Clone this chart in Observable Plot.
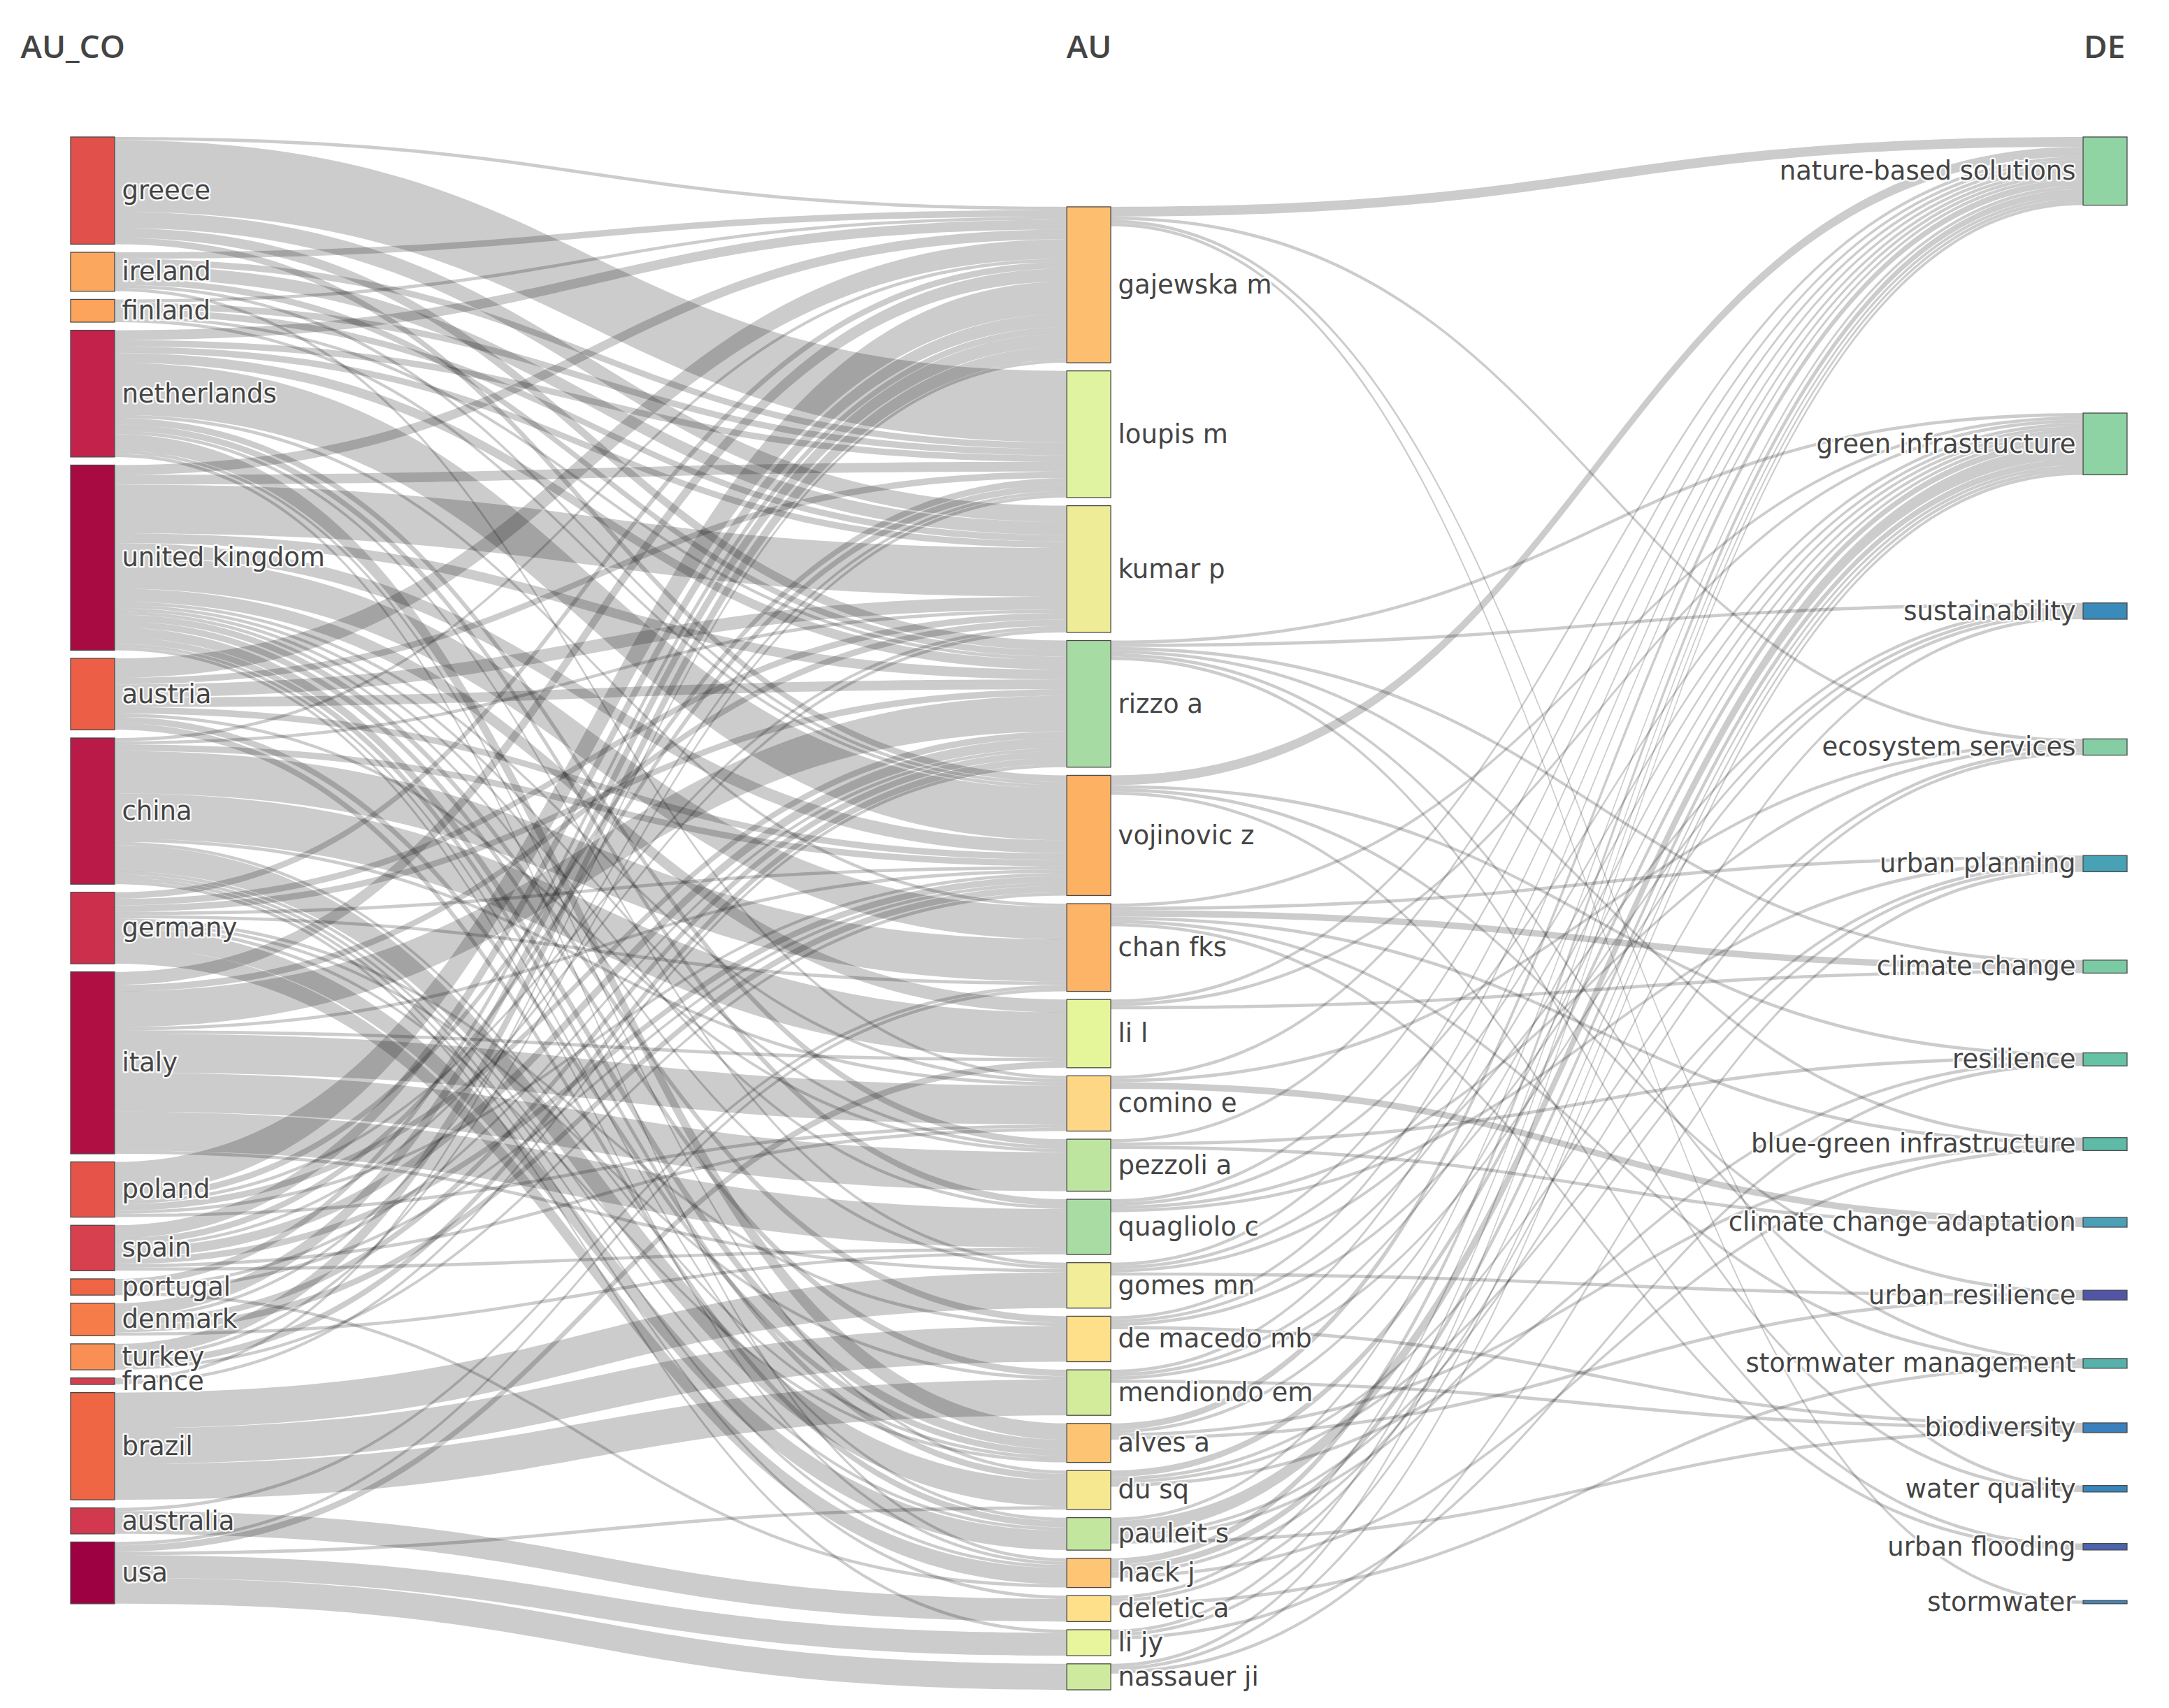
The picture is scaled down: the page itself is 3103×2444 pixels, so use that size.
<!DOCTYPE html>
<html>
<head>
<meta charset="utf-8">
<script src="https://cdn.jsdelivr.net/npm/d3@7"></script>
<script src="https://cdn.jsdelivr.net/npm/@observablehq/plot@0.6"></script>
<style>
  html, body { margin: 0; padding: 0; background: #fff; overflow: hidden; }
</style>
</head>
<body>
<div id="chart"></div>
<script>
// ---------------- data ----------------
const columnTitles = ["AU_CO", "AU", "DE"];

const countries = ["greece", "ireland", "finland", "netherlands", "united kingdom", "austria",
  "china", "germany", "italy", "poland", "spain", "portugal", "denmark", "turkey", "france",
  "brazil", "australia", "usa"];

const authors = ["gajewska m", "loupis m", "kumar p", "rizzo a", "vojinovic z", "chan fks", "li l",
  "comino e", "pezzoli a", "quagliolo c", "gomes mn", "de macedo mb", "mendiondo em", "alves a",
  "du sq", "pauleit s", "hack j", "deletic a", "li jy", "nassauer ji"];

const keywords = ["nature-based solutions", "green infrastructure", "sustainability",
  "ecosystem services", "urban planning", "climate change", "resilience",
  "blue-green infrastructure", "climate change adaptation", "urban resilience",
  "stormwater management", "biodiversity", "water quality", "urban flooding", "stormwater"];

// country -> author (source, target, value)
const countryAuthorLinks = [
  ["greece", "gajewska m", 1], ["greece", "loupis m", 22], ["greece", "kumar p", 5], ["greece", "rizzo a", 3], ["greece", "vojinovic z", 2],
  ["ireland", "gajewska m", 2], ["ireland", "loupis m", 2], ["ireland", "kumar p", 4], ["ireland", "rizzo a", 2], ["ireland", "vojinovic z", 1], ["ireland", "comino e", 1],
  ["finland", "gajewska m", 1], ["finland", "loupis m", 2], ["finland", "kumar p", 2], ["finland", "rizzo a", 1], ["finland", "vojinovic z", 1],
  ["netherlands", "gajewska m", 3], ["netherlands", "loupis m", 2], ["netherlands", "kumar p", 2], ["netherlands", "rizzo a", 3], ["netherlands", "vojinovic z", 16],
  ["netherlands", "chan fks", 1], ["netherlands", "pezzoli a", 2], ["netherlands", "quagliolo c", 2], ["netherlands", "gomes mn", 1], ["netherlands", "alves a", 5],
  ["netherlands", "du sq", 1], ["netherlands", "hack j", 1],
  ["united kingdom", "gajewska m", 3], ["united kingdom", "loupis m", 3], ["united kingdom", "kumar p", 15], ["united kingdom", "rizzo a", 3],
  ["united kingdom", "vojinovic z", 4], ["united kingdom", "chan fks", 10], ["united kingdom", "li l", 4], ["united kingdom", "comino e", 1],
  ["united kingdom", "pezzoli a", 1], ["united kingdom", "quagliolo c", 1], ["united kingdom", "gomes mn", 1], ["united kingdom", "de macedo mb", 2],
  ["united kingdom", "mendiondo em", 2], ["united kingdom", "alves a", 3], ["united kingdom", "du sq", 2], ["united kingdom", "pauleit s", 1], ["united kingdom", "hack j", 1],
  ["austria", "gajewska m", 6], ["austria", "loupis m", 2], ["austria", "kumar p", 4], ["austria", "rizzo a", 3], ["austria", "vojinovic z", 2],
  ["austria", "pezzoli a", 1], ["austria", "alves a", 2], ["austria", "pauleit s", 2],
  ["china", "gajewska m", 1], ["china", "kumar p", 1], ["china", "vojinovic z", 2], ["china", "chan fks", 13], ["china", "li l", 14], ["china", "comino e", 1],
  ["china", "alves a", 1], ["china", "du sq", 8], ["china", "pauleit s", 1], ["china", "hack j", 1], ["china", "deletic a", 1], ["china", "li jy", 1],
  ["germany", "gajewska m", 2], ["germany", "kumar p", 2], ["germany", "rizzo a", 2], ["germany", "vojinovic z", 1], ["germany", "chan fks", 1],
  ["germany", "de macedo mb", 1], ["germany", "mendiondo em", 1], ["germany", "alves a", 1], ["germany", "pauleit s", 6], ["germany", "hack j", 5],
  ["italy", "gajewska m", 4], ["italy", "kumar p", 2], ["italy", "rizzo a", 11], ["italy", "vojinovic z", 1], ["italy", "li l", 1],
  ["italy", "comino e", 12], ["italy", "pezzoli a", 12], ["italy", "quagliolo c", 12], ["italy", "gomes mn", 1],
  ["poland", "gajewska m", 10], ["poland", "loupis m", 2], ["poland", "kumar p", 1], ["poland", "rizzo a", 2], ["poland", "vojinovic z", 1], ["poland", "comino e", 1],
  ["spain", "gajewska m", 4], ["spain", "loupis m", 2], ["spain", "kumar p", 1], ["spain", "rizzo a", 3], ["spain", "vojinovic z", 2], ["spain", "comino e", 1], ["spain", "quagliolo c", 1],
  ["portugal", "gajewska m", 2], ["portugal", "rizzo a", 1], ["portugal", "vojinovic z", 1], ["portugal", "hack j", 1],
  ["denmark", "gajewska m", 4], ["denmark", "loupis m", 1], ["denmark", "rizzo a", 2], ["denmark", "vojinovic z", 2], ["denmark", "quagliolo c", 1],
  ["turkey", "gajewska m", 4], ["turkey", "loupis m", 1], ["turkey", "rizzo a", 2], ["turkey", "vojinovic z", 1],
  ["france", "gajewska m", 1], ["france", "rizzo a", 1],
  ["brazil", "gomes mn", 11], ["brazil", "de macedo mb", 11], ["brazil", "mendiondo em", 11],
  ["australia", "chan fks", 1], ["australia", "deletic a", 7],
  ["usa", "chan fks", 1], ["usa", "li l", 2], ["usa", "du sq", 1], ["usa", "li jy", 7], ["usa", "nassauer ji", 8]
];

// author -> keyword (source, target, value)
const authorKeywordLinks = [
  ["gajewska m", "nature-based solutions", 3], ["gajewska m", "ecosystem services", 1], ["gajewska m", "water quality", 1], ["gajewska m", "stormwater", 1],
  ["rizzo a", "green infrastructure", 1], ["rizzo a", "sustainability", 1], ["rizzo a", "climate change", 1], ["rizzo a", "blue-green infrastructure", 1],
  ["rizzo a", "stormwater management", 1], ["rizzo a", "water quality", 1],
  ["vojinovic z", "nature-based solutions", 3], ["vojinovic z", "resilience", 1], ["vojinovic z", "urban resilience", 1], ["vojinovic z", "urban flooding", 1],
  ["chan fks", "green infrastructure", 1], ["chan fks", "urban planning", 1], ["chan fks", "climate change", 2], ["chan fks", "blue-green infrastructure", 1],
  ["chan fks", "stormwater management", 1], ["chan fks", "urban flooding", 1],
  ["li l", "nature-based solutions", 1], ["li l", "green infrastructure", 1], ["li l", "climate change", 1],
  ["comino e", "nature-based solutions", 1], ["comino e", "ecosystem services", 1], ["comino e", "climate change adaptation", 2],
  ["pezzoli a", "nature-based solutions", 1], ["pezzoli a", "resilience", 1], ["pezzoli a", "climate change adaptation", 1],
  ["quagliolo c", "nature-based solutions", 1], ["quagliolo c", "green infrastructure", 1], ["quagliolo c", "ecosystem services", 1], ["quagliolo c", "urban planning", 1],
  ["gomes mn", "nature-based solutions", 1], ["gomes mn", "green infrastructure", 1], ["gomes mn", "sustainability", 1], ["gomes mn", "urban resilience", 1],
  ["de macedo mb", "nature-based solutions", 1], ["de macedo mb", "green infrastructure", 1], ["de macedo mb", "sustainability", 1], ["de macedo mb", "biodiversity", 1],
  ["mendiondo em", "nature-based solutions", 1], ["mendiondo em", "green infrastructure", 1], ["mendiondo em", "sustainability", 1], ["mendiondo em", "biodiversity", 1],
  ["alves a", "nature-based solutions", 2], ["alves a", "green infrastructure", 1], ["alves a", "blue-green infrastructure", 1], ["alves a", "urban resilience", 1],
  ["du sq", "green infrastructure", 2], ["du sq", "ecosystem services", 1], ["du sq", "urban planning", 1], ["du sq", "resilience", 1],
  ["pauleit s", "nature-based solutions", 1], ["pauleit s", "green infrastructure", 4], ["pauleit s", "ecosystem services", 1], ["pauleit s", "urban planning", 1], ["pauleit s", "biodiversity", 1],
  ["hack j", "nature-based solutions", 2], ["hack j", "green infrastructure", 2], ["hack j", "sustainability", 1], ["hack j", "blue-green infrastructure", 1],
  ["deletic a", "nature-based solutions", 1], ["deletic a", "green infrastructure", 1], ["deletic a", "stormwater management", 1],
  ["li jy", "nature-based solutions", 1], ["li jy", "green infrastructure", 1], ["li jy", "resilience", 1],
  ["nassauer ji", "nature-based solutions", 1], ["nassauer ji", "green infrastructure", 1], ["nassauer ji", "urban planning", 1]
];

// ---------------- styles ----------------
const nodeColors = {
  "greece": "#e1504a", "ireland": "#fba75e", "finland": "#fca45c", "netherlands": "#c3234b",
  "united kingdom": "#a80b42", "austria": "#ec5f46", "china": "#b91a48", "germany": "#cc2f4c",
  "italy": "#b00f44", "poland": "#e65449", "spain": "#d7404e", "portugal": "#ef6444",
  "denmark": "#f67c4a", "turkey": "#f98f55", "france": "#d53e4f", "brazil": "#ef6645",
  "australia": "#d2394e", "usa": "#9e0142",
  "gajewska m": "#fdbf6f", "loupis m": "#e0f3a0", "kumar p": "#eeec97", "rizzo a": "#a6dba4",
  "vojinovic z": "#fdb163", "chan fks": "#fdb466", "li l": "#e4f59a", "comino e": "#fdd785",
  "pezzoli a": "#bde59f", "quagliolo c": "#a8dca3", "gomes mn": "#f2ed99", "de macedo mb": "#fee08b",
  "mendiondo em": "#d3ec9c", "alves a": "#fdc473", "du sq": "#f6e890", "pauleit s": "#c3e69e",
  "hack j": "#fdc574", "deletic a": "#fee08b", "li jy": "#e9f59d", "nassauer ji": "#cdea9f",
  "nature-based solutions": "#91d4a3", "green infrastructure": "#8ed3a3", "sustainability": "#3a8bbb",
  "ecosystem services": "#85cea4", "urban planning": "#48a1b5", "climate change": "#7acaa4",
  "resilience": "#66c2a5", "blue-green infrastructure": "#5fbaa8", "climate change adaptation": "#4aa0b6",
  "urban resilience": "#5055a8", "stormwater management": "#56b1ab", "biodiversity": "#3a80bc",
  "water quality": "#3786be", "urban flooding": "#4a64ae", "stormwater": "#3d85bd"
};

const W = 3103, H = 2444;
const margin = {top: 196, right: 60, bottom: 26, left: 101};
const columnX = [0, 0.99, 2]; // left edge of each column, in column units
const nodeWidth = 0.0437;     // node thickness, in column units
const nodePad = 2.5;          // gap between nodes, in value units
const stagger = 21.5;         // downward offset of the middle column, in value units
const spreadK = 0.3;          // log part of the spacing rule for the last column
const spreadExp = 0.57;       // power part of the spacing rule for the last column

// ---------------- sankey layout ----------------
const columns = [countries, authors, keywords];
const nodeMap = new Map();
columns.forEach((names, col) => names.forEach((name, i) =>
  nodeMap.set(name, {name, col, x: columnX[col], index: i, inV: 0, outV: 0, sourceLinks: [], targetLinks: []})));

const links = [...countryAuthorLinks, ...authorKeywordLinks].map(([s, t, v], i) =>
  ({id: i, source: nodeMap.get(s), target: nodeMap.get(t), value: v}));
for (const l of links) {
  l.source.outV += l.value; l.target.inV += l.value;
  l.source.sourceLinks.push(l); l.target.targetLinks.push(l);
}
for (const n of nodeMap.values()) n.value = Math.max(n.inV, n.outV);

const colNodes = columns.map(names => names.map(n => nodeMap.get(n)));
const extent = colNodes.map(c => d3.sum(c, d => d.value) + (c.length - 1) * nodePad);

function stack(col, start) {
  let y = start;
  for (const n of col) { n.y0 = y; n.y1 = y + n.value; y = n.y1 + nodePad; }
}
stack(colNodes[0], 0);
stack(colNodes[1], stagger);

// last column: nodes spread over the first column's extent, denser towards the bottom
const last = colNodes[2], m = last.length;
const logPart = d3.scaleLog().domain([1, 1 + spreadK * (m - 1)]).range([0, 1]);
const powPart = d3.scalePow().exponent(spreadExp).domain([0, m - 1]).range([0, 1]);
const place = d3.scaleLinear().domain([0, 1])
  .range([last[0].value / 2, extent[0] - last[m - 1].value / 2]);
last.forEach((n, i) => {
  const c = place((logPart(1 + spreadK * i) + powPart(i)) / 2);
  n.y0 = c - n.value / 2; n.y1 = c + n.value / 2;
});

const D = Math.max(extent[0], extent[1] + stagger, d3.max(last, d => d.y1));

for (const n of nodeMap.values()) {
  n.sourceLinks.sort((a, b) => a.target.y0 - b.target.y0);
  n.targetLinks.sort((a, b) => a.source.y0 - b.source.y0);
  let y = n.y0;
  for (const l of n.sourceLinks) { l.sy = y; y += l.value; }
  y = n.y0;
  for (const l of n.targetLinks) { l.ty = y; y += l.value; }
}

const ribbons = links.flatMap(l => [
  {id: l.id, x: l.source.x + nodeWidth, y1: l.sy, y2: l.sy + l.value},
  {id: l.id, x: l.target.x, y1: l.ty, y2: l.ty + l.value}
]);

const nodes = [...nodeMap.values()];
const titles = columnTitles.map((t, i) => ({t, col: i, x: columnX[i]}));

const labelFont = {fontFamily: "DejaVu Sans, Verdana, sans-serif", fontSize: 37, fill: "#444",
  stroke: "white", strokeWidth: 5, strokeOpacity: 0.9, lineAnchor: "middle"};
const titleFont = {fontFamily: "Open Sans, sans-serif", fontSize: 46, fontWeight: 600, fill: "#444",
  frameAnchor: "top", dy: -128, lineAnchor: "middle"};

const chart = Plot.plot({
  width: W, height: H,
  marginTop: margin.top, marginRight: margin.right, marginBottom: margin.bottom, marginLeft: margin.left,
  style: {background: "#fff", overflow: "visible"},
  x: {domain: [0, 2 + nodeWidth], axis: null},
  y: {domain: [0, D], reverse: true, axis: null},
  marks: [
    Plot.area(ribbons, {x1: "x", y1: "y1", y2: "y2", z: "id", curve: "bump-x", fill: "black", fillOpacity: 0.2}),
    Plot.rect(nodes, {x1: "x", x2: d => d.x + nodeWidth, y1: "y0", y2: "y1",
      fill: d => nodeColors[d.name], stroke: "#4a4a4a", strokeWidth: 1.3}),
    Plot.text(nodes.filter(d => d.col < 2), {x: d => d.x + nodeWidth, y: d => (d.y0 + d.y1) / 2,
      text: "name", textAnchor: "start", dx: 10, ...labelFont}),
    Plot.text(nodes.filter(d => d.col === 2), {x: "x", y: d => (d.y0 + d.y1) / 2,
      text: "name", textAnchor: "end", dx: -11, ...labelFont}),
    Plot.text(titles.filter(d => d.col === 0), {x: "x", text: "t", textAnchor: "start", dx: -72, ...titleFont}),
    Plot.text(titles.filter(d => d.col === 1), {x: d => d.x + nodeWidth / 2, text: "t", textAnchor: "middle", ...titleFont}),
    Plot.text(titles.filter(d => d.col === 2), {x: d => d.x + nodeWidth, text: "t", textAnchor: "end", dx: -3, ...titleFont})
  ]
});
document.getElementById("chart").appendChild(chart);
</script>
</body>
</html>
